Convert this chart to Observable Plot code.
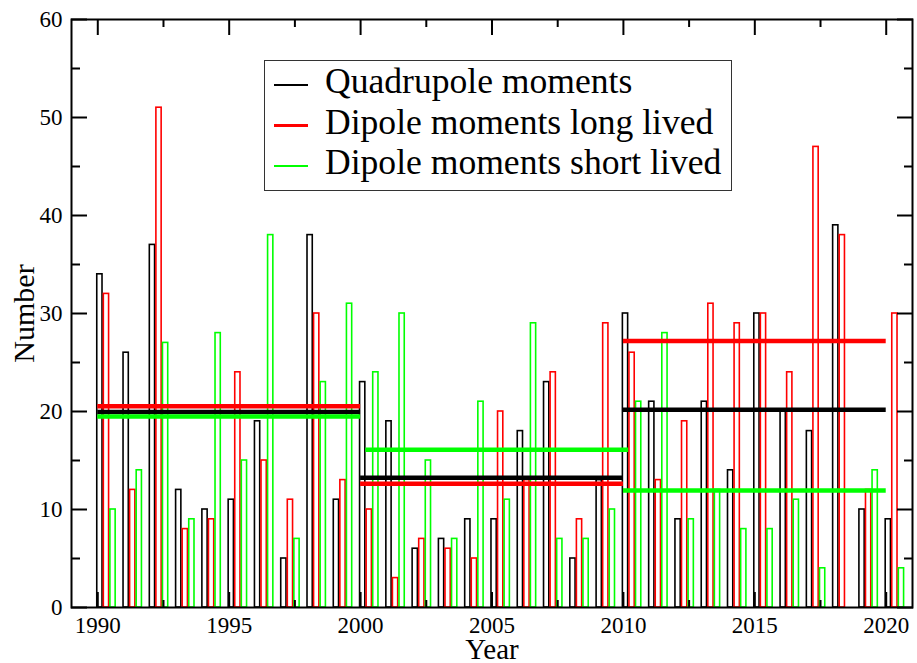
<!DOCTYPE html>
<html><head><meta charset="utf-8">
<script src="https://cdn.jsdelivr.net/npm/d3@7"></script>
<script src="https://cdn.jsdelivr.net/npm/@observablehq/plot@0.6"></script>
<style>
body{margin:0;background:#fff;}
#wrap{position:relative;width:917px;height:663px;}
#legend{position:absolute;left:264px;top:60px;width:468px;height:131px;box-sizing:border-box;border:1.5px solid #333;background:#fff;font-family:"Liberation Serif",serif;font-size:35.6px;color:#000;}
.row{position:relative;height:40.7px;line-height:40.7px;}
.sw{position:absolute;left:9px;top:22.8px;width:34px;height:2.2px;}
.lab{position:absolute;left:60px;top:0;white-space:nowrap;}
</style></head><body><div id="wrap"></div>
<script>
const years = [1990,1991,1992,1993,1994,1995,1996,1997,1998,1999,2000,2001,2002,2003,2004,2005,2006,2007,2008,2009,2010,2011,2012,2013,2014,2015,2016,2017,2018,2019,2020];
const quadrupole = [34,26,37,12,10,11,19,5,38,11,23,19,6,7,9,9,18,23,5,13,30,21,9,21,14,30,20,18,39,10,9];
const dipoleLong = [32,12,51,8,9,24,15,11,30,13,10,3,7,6,5,20,13,24,9,29,26,13,19,31,29,30,24,47,38,12,30];
const dipoleShort = [10,14,27,9,28,15,38,7,23,31,24,30,15,7,21,11,29,7,7,10,21,28,9,12,8,8,11,4,0,14,4];

const periodStart = [1990, 2000, 2010];
const periodEnd = [2000, 2010, 2020];
const avgQuadrupole = [19.96, 13.23, 20.17];
const avgDipoleLong = [20.54, 12.62, 27.2];
const avgDipoleShort = [19.49, 16.09, 11.94];

const seriesNames = ["Quadrupole moments", "Dipole moments long lived", "Dipole moments short lived"];
const xLabels = [1990, 1995, 2000, 2005, 2010, 2015, 2020];
const yLabels = [0, 10, 20, 30, 40, 50, 60];
const xMinor = [1992.5, 1997.5, 2002.5, 2007.5, 2012.5, 2017.5];
const yMinor = [5, 15, 25, 35, 45, 55];

const colors = ["#000000", "#ff0000", "#00ff00"];
const barOffsets = [[-0.02, 0.18], [0.23, 0.43], [0.48, 0.68]];
const lineOffsets = [[0, 0], [0, 0], [0.2, 0]];
const values = [quadrupole, dipoleLong, dipoleShort];
const avgs = [avgQuadrupole, avgDipoleLong, avgDipoleShort];

const barMarks = values.map((vals, s) => {
  const rows = years.map((y, i) => ({year: y, value: vals[i]}));
  return Plot.rect(rows.filter(d => d.value > 0), {
    x1: d => d.year + barOffsets[s][0],
    x2: d => d.year + barOffsets[s][1],
    y1: 0, y2: "value",
    fill: "none", stroke: colors[s], strokeWidth: 1.6
  });
});

const lineMarks = avgs.map((a, s) => {
  const rows = periodStart.map((p, i) => ({start: p, end: periodEnd[i], value: a[i]}));
  return Plot.ruleY(rows, {
    x1: d => d.start + (d.start === 2000 ? lineOffsets[s][0] : 0),
    x2: d => d.end + (d.start === 2000 ? lineOffsets[s][0] : 0),
    y: "value", stroke: colors[s], strokeWidth: 4.5
  });
});

const tickStyle = {fill: "none", label: null, strokeWidth: 2, stroke: "black"};

const chart = Plot.plot({
  width: 917, height: 663,
  marginLeft: 71, marginRight: 5, marginTop: 19, marginBottom: 56,
  x: {domain: [1989, 2021]},
  y: {domain: [0, 60]},
  style: {fontFamily: '"Liberation Serif", serif', fontSize: "23px", color: "black", background: "white"},
  marks: [
    ...barMarks,
    ...lineMarks,
    Plot.axisX(xLabels, {anchor: "bottom", tickSize: -15, ...tickStyle}),
    Plot.axisX(xLabels, {anchor: "top", tickSize: -15, ...tickStyle}),
    Plot.axisX(xMinor, {anchor: "bottom", tickSize: -7, ...tickStyle}),
    Plot.axisX(xMinor, {anchor: "top", tickSize: -7, ...tickStyle}),
    Plot.axisY(yLabels, {anchor: "left", tickSize: -16, ...tickStyle}),
    Plot.axisY(yLabels, {anchor: "right", tickSize: -16, ...tickStyle}),
    Plot.axisY(yMinor, {anchor: "left", tickSize: -9, ...tickStyle}),
    Plot.axisY(yMinor, {anchor: "right", tickSize: -9, ...tickStyle}),
    Plot.axisX(xLabels, {anchor: "bottom", tickSize: 0, tickPadding: 9, tickFormat: "d", label: null, fontSize: 23, fill: "black"}),
    Plot.axisY(yLabels, {anchor: "left", tickSize: 0, tickPadding: 9, tickFormat: "d", label: null, fontSize: 23, fill: "black"}),
    Plot.text(["Year"], {text: d => d, frameAnchor: "bottom", dy: 31, lineAnchor: "top", fontSize: 29, fill: "black"}),
    Plot.text(["Number"], {text: d => d, frameAnchor: "left", dx: -47.6, rotate: -90, textAnchor: "middle", lineAnchor: "middle", fontSize: 30, fill: "black"}),
    Plot.frame({stroke: "black", strokeWidth: 2})
  ]
});

const wrap = document.getElementById("wrap");
wrap.appendChild(chart);
const legend = document.createElement("div");
legend.id = "legend";
seriesNames.forEach((name, s) => {
  const row = document.createElement("div");
  row.className = "row";
  const sw = document.createElement("div");
  sw.className = "sw";
  sw.style.background = colors[s];
  const lab = document.createElement("div");
  lab.className = "lab";
  lab.textContent = name;
  row.appendChild(sw); row.appendChild(lab);
  legend.appendChild(row);
});
wrap.appendChild(legend);
</script></body></html>
